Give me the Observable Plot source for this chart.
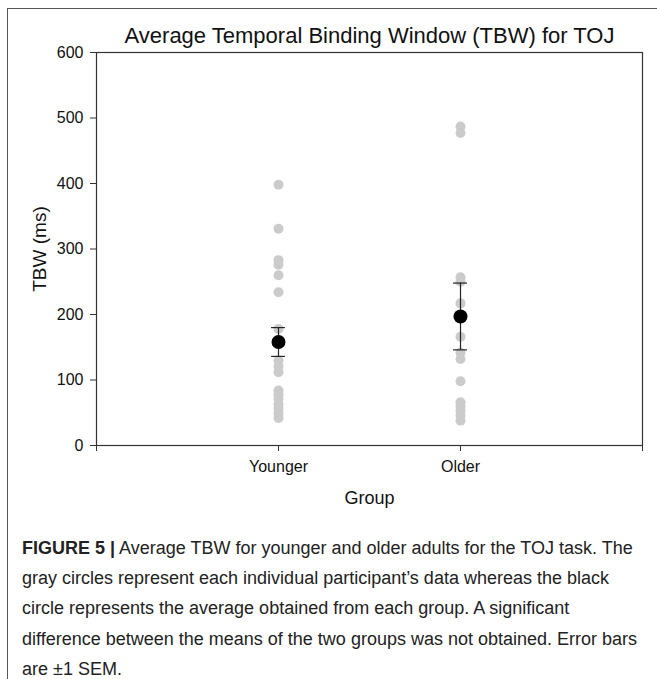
<!DOCTYPE html>
<html>
<head>
<meta charset="utf-8">
<script src="https://cdn.jsdelivr.net/npm/d3@7"></script>
<script src="https://cdn.jsdelivr.net/npm/@observablehq/plot@0.6"></script>
<style>
  html, body { margin: 0; padding: 0; background: #fff; }
  body { width: 657px; height: 679px; position: relative; overflow: hidden; font-family: "Liberation Sans", Arial, sans-serif; }
  #border { position: absolute; left: 7px; top: 8px; width: 660px; height: 700px; border-left: 1px solid #555; border-top: 1px solid #555; }
  #chart { position: absolute; left: 0; top: 0; }
  .lbl { position: absolute; color: #111; white-space: nowrap; }
  #title { left: 0; width: 739px; text-align: center; top: 23px; font-size: 22px; }
  #ylab { left: 40px; top: 249px; font-size: 19px; transform: translate(-50%, -50%) rotate(-90deg); }
  #xlab { left: 0; width: 739px; text-align: center; top: 488px; font-size: 18px; }
  #caption { position: absolute; left: 22px; top: 533px; width: 630px; font-size: 18px; line-height: 30.2px; color: #222; white-space: nowrap; }
</style>
</head>
<body>
<div id="border"></div>
<div id="chart"></div>
<div class="lbl" id="title">Average Temporal Binding Window (TBW) for TOJ</div>
<div class="lbl" id="ylab">TBW (ms)</div>
<div class="lbl" id="xlab">Group</div>
<div id="caption"><b>FIGURE 5 |</b> Average TBW for younger and older adults for the TOJ task. The<br>gray circles represent each individual participant’s data whereas the black<br>circle represents the average obtained from each group. A significant<br>difference between the means of the two groups was not obtained. Error bars<br>are ±1 SEM.</div>
<script>
const groups = ["Younger", "Older"];
const groupPos = [1, 2];
const youngerTBW = [398, 331, 283, 276, 260, 234, 178, 130, 121, 112, 84, 78, 71, 63, 56, 49, 42];
const olderTBW = [487, 477, 257, 250, 217, 166, 142, 132, 98, 66, 60, 53, 46, 38];
const meanTBW = [158, 197];
const semTBW = [22, 51];
const yTicks = [0, 100, 200, 300, 400, 500, 600];
const xTicks = [0, 1, 2, 3];

const points = [
  ...youngerTBW.map(v => ({x: groupPos[0], y: v})),
  ...olderTBW.map(v => ({x: groupPos[1], y: v}))
];
const means = groups.map((g, i) => ({
  x: groupPos[i], y: meanTBW[i], lo: meanTBW[i] - semTBW[i], hi: meanTBW[i] + semTBW[i]
}));
const capW = 0.038;

const chart = Plot.plot({
  width: 657,
  height: 530,
  marginLeft: 96,
  marginRight: 15,
  marginTop: 52,
  marginBottom: 85,
  style: {fontFamily: "Liberation Sans, Arial, sans-serif", color: "#111", background: "transparent"},
  x: {domain: [0, 3]},
  y: {domain: [0, 600]},
  marks: [
    Plot.axisX({ticks: xTicks, tickFormat: d => (d === 1 ? groups[0] : d === 2 ? groups[1] : ""), tickSize: 6, tickPadding: 9, label: null, fontSize: 16, stroke: "#333"}),
    Plot.axisY({ticks: yTicks, tickSize: 6, tickPadding: 7, label: null, fontSize: 16, stroke: "#333"}),
    Plot.dot(points, {x: "x", y: "y", r: 5, fill: "#cbcbcb", stroke: "none"}),
    Plot.ruleX(means, {x: "x", y1: "lo", y2: "hi", stroke: "#222", strokeWidth: 1.2}),
    Plot.ruleY(means, {y: "hi", x1: d => d.x - capW, x2: d => d.x + capW, stroke: "#222", strokeWidth: 1.2}),
    Plot.ruleY(means, {y: "lo", x1: d => d.x - capW, x2: d => d.x + capW, stroke: "#222", strokeWidth: 1.2}),
    Plot.dot(means, {x: "x", y: "y", r: 7, fill: "#000", stroke: "none"}),
    Plot.frame({stroke: "#333", strokeWidth: 1.2})
  ]
});
document.getElementById("chart").appendChild(chart);
</script>
</body>
</html>
